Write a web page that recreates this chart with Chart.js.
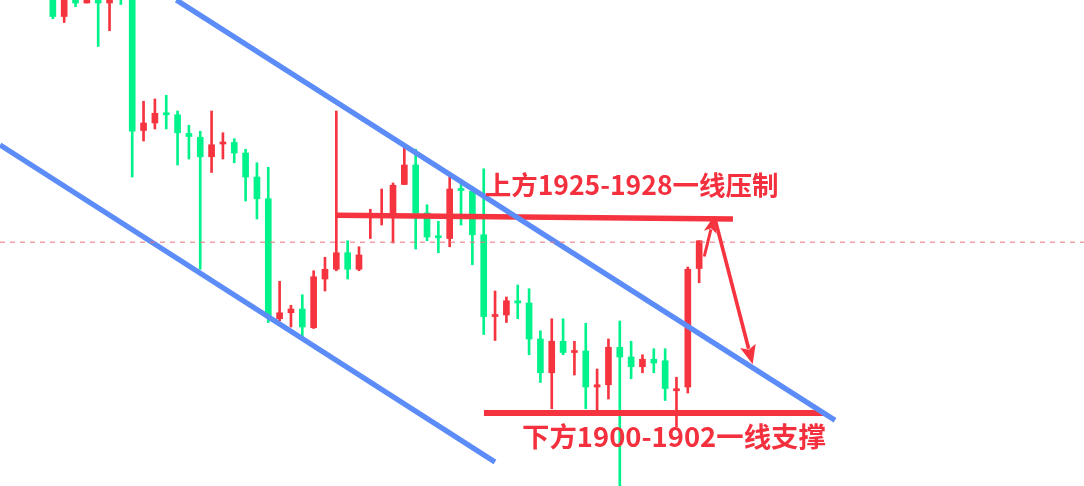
<!DOCTYPE html>
<html>
<head>
<meta charset="utf-8">
<script src="https://cdn.jsdelivr.net/npm/chart.js@4.4.0/dist/chart.umd.min.js"></script>
<style>
  html, body { margin: 0; padding: 0; background: #ffffff; }
  #wrap { width: 1084px; height: 486px; position: relative; }
</style>
</head>
<body>
<div id="wrap"><canvas id="c"></canvas></div>
<script>
// ---- candle data (price units) ----
const opens  = [1957.0,1953.8,1956.3,1955.6,1956.3,1955.6,1958.7,1956.7,1938.6,1939.6,1940.9,1940.7,1938.2,1937.7,1935.1,1936.8,1937.0,1935.6,1932.4,1929.5,1913.5,1914.3,1914.8,1912.3,1918.8,1920.1,1922.3,1920.1,1927.1,1927.1,1927.2,1931.4,1934.0,1927.6,1924.5,1924.2,1930.8,1930.5,1924.7,1913.8,1914.0,1915.9,1915.6,1910.8,1906.3,1910.5,1909.0,1909.2,1904.4,1904.7,1909.7,1908.4,1907.1,1908.1,1907.9,1903.9,1904.4,1920.2];
const highs  = [1958.0,1957.3,1956.8,1956.7,1957.1,1957.1,1959.3,1957.3,1942.5,1942.8,1943.3,1941.2,1939.3,1938.5,1941.2,1938.3,1937.5,1936.1,1934.3,1933.7,1918.5,1915.3,1916.7,1919.9,1921.7,1941.2,1923.9,1923.1,1928.1,1930.8,1931.6,1936.4,1936.1,1928.7,1926.5,1932.9,1932.1,1931.1,1933.5,1917.2,1916.4,1918.0,1917.5,1911.9,1913.5,1913.5,1910.5,1912.9,1906.8,1910.8,1913.2,1910.5,1908.7,1909.5,1909.5,1905.7,1920.4,1923.9];
const lows   = [1953.5,1953.0,1955.1,1955.6,1949.8,1951.9,1955.4,1932.4,1937.2,1938.8,1938.8,1934.0,1934.8,1920.1,1933.0,1934.8,1934.3,1929.2,1926.8,1913.0,1913.2,1912.4,1910.7,1912.2,1917.2,1919.9,1918.8,1919.9,1924.2,1926.0,1923.6,1931.4,1922.8,1923.9,1922.3,1923.1,1926.0,1920.7,1911.4,1910.6,1913.0,1913.5,1908.7,1905.0,1901.5,1908.7,1906.0,1901.5,1901.0,1902.8,1891.0,1905.5,1906.3,1906.3,1902.6,1899.1,1903.6,1918.3];
const closes = [1953.8,1956.7,1955.6,1956.3,1955.6,1956.4,1956.7,1938.5,1939.6,1940.9,1940.7,1938.3,1937.8,1935.1,1936.7,1937.0,1935.6,1932.4,1929.5,1913.8,1914.3,1914.8,1912.4,1919.1,1920.1,1922.3,1920.1,1922.0,1927.3,1927.3,1931.3,1934.0,1927.6,1924.4,1924.3,1930.8,1930.6,1924.7,1913.8,1914.0,1915.9,1915.6,1910.8,1906.3,1910.5,1909.0,1909.2,1904.4,1904.7,1909.7,1908.4,1907.1,1908.1,1907.6,1904.2,1904.1,1920.1,1923.9];

// ---- drawn trend / level lines (candle index, price) ----
const upperChannelX = [10.89, 68.98];
const upperChannelY = [1956.0, 1899.96];
const lowerChannelX = [-4.66, 38.99];
const lowerChannelY = [1936.67, 1894.4];
const resistX = [25.06, 59.98];
const resistY = [1927.3, 1926.8];
const supportX = [38.02, 68.0];
const supportY = [1900.93, 1900.93];
const refLevel = 1923.7;

// ---- arrows (candle index, price) ----
const arrowFromX = [57.45, 58.35];
const arrowFromY = [1921.8, 1927.07];
const arrowToX   = [58.33, 61.72];
const arrowToY   = [1927.24, 1907.43];

// ---- annotation texts ----
const noteTexts = ['上方1925-1928一线压制', '下方1900-1902一线支撑'];
const noteX = [38.08, 41.38];
const noteY = [1931.4, 1897.8];
const noteSize = [26.5, 27.4];

const RED = '#f6343f';
const GREEN = '#00f28a';
const BLUE = '#5c8cf8';

const idx = opens.map((_, i) => i);
const colors = idx.map(i => closes[i] > opens[i] ? RED : GREEN);

function seg(xs, ys) { return xs.map((x, k) => ({ x: x, y: ys[k] })); }

const annotPlugin = {
  id: 'annot',
  afterDatasetsDraw(chart) {
    const ctx = chart.ctx;
    const xs = chart.scales.x, ys = chart.scales.y;
    ctx.save();
    // arrows
    const headLen = [17, 19], headHalf = [6.5, 8], shaftW = [3, 3.6];
    for (let k = 0; k < arrowFromX.length; k++) {
      const x0 = xs.getPixelForValue(arrowFromX[k]), y0 = ys.getPixelForValue(arrowFromY[k]);
      const x1 = xs.getPixelForValue(arrowToX[k]), y1 = ys.getPixelForValue(arrowToY[k]);
      const dx = x1 - x0, dy = y1 - y0, L = Math.hypot(dx, dy);
      const ux = dx / L, uy = dy / L, px = -uy, py = ux;
      const bx = x1 - ux * headLen[k], by = y1 - uy * headLen[k];
      ctx.strokeStyle = RED; ctx.fillStyle = RED;
      ctx.lineWidth = shaftW[k];
      ctx.beginPath(); ctx.moveTo(x0, y0); ctx.lineTo(bx + ux * 3, by + uy * 3); ctx.stroke();
      ctx.beginPath();
      ctx.moveTo(x1, y1);
      ctx.lineTo(bx + px * headHalf[k], by + py * headHalf[k]);
      ctx.lineTo(bx + ux * 4, by + uy * 4);
      ctx.lineTo(bx - px * headHalf[k], by - py * headHalf[k]);
      ctx.closePath(); ctx.fill();
    }
    // texts
    ctx.fillStyle = '#f4303e';
    ctx.textBaseline = 'middle';
    ctx.textAlign = 'left';
    for (let k = 0; k < noteTexts.length; k++) {
      ctx.font = 'bold ' + noteSize[k] + 'px "Noto Sans CJK SC", "Noto Sans", sans-serif';
      ctx.fillText(noteTexts[k], xs.getPixelForValue(noteX[k]), ys.getPixelForValue(noteY[k]));
    }
    ctx.restore();
  }
};

const lineDs = (data, color, width, dash) => ({
  type: 'line', data: data, borderColor: color, borderWidth: width,
  borderDash: dash || [], pointRadius: 0, fill: false, tension: 0,
  borderCapStyle: 'butt', order: 0
});

new Chart(document.getElementById('c'), {
  type: 'bar',
  data: {
    datasets: [
      lineDs([{ x: -4.66, y: refLevel }, { x: 90.94, y: refLevel }], 'rgba(232,120,128,0.7)', 1.5, [5, 5]),
      {
        data: idx.map(i => ({ x: i, y: [lows[i], highs[i]] })),
        backgroundColor: colors, barThickness: 2, grouped: false, borderWidth: 0, order: 3
      },
      {
        data: idx.map(i => ({ x: i, y: [opens[i], closes[i]] })),
        backgroundColor: colors, barThickness: 6, grouped: false, borderWidth: 0, minBarLength: 2, order: 2
      },
      lineDs(seg(upperChannelX, upperChannelY), BLUE, 5.3),
      lineDs(seg(lowerChannelX, lowerChannelY), BLUE, 5.3),
      lineDs(seg(resistX, resistY), RED, 5.5),
      lineDs(seg(supportX, supportY), RED, 6)
    ]
  },
  options: {
    responsive: true,
    maintainAspectRatio: false,
    animation: false,
    devicePixelRatio: 1,
    layout: { padding: 0 },
    plugins: { legend: { display: false }, tooltip: { enabled: false } },
    scales: {
      x: { type: 'linear', min: -4.66, max: 90.94, offset: false, display: false, grid: { offset: false } },
      y: { type: 'linear', min: 1891.2, max: 1956.0, display: false, beginAtZero: false }
    }
  },
  plugins: [annotPlugin]
});
</script>
</body>
</html>
